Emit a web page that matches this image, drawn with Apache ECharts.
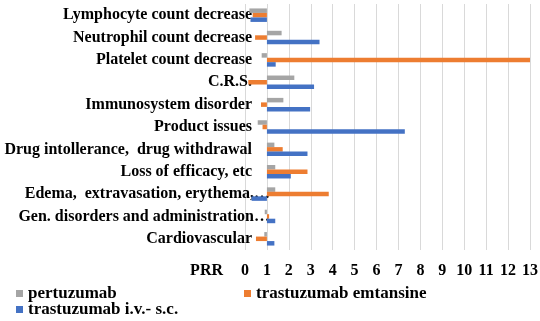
<!DOCTYPE html>
<html>
<head>
<meta charset="utf-8">
<script src="https://cdn.jsdelivr.net/npm/echarts@6/dist/echarts.min.js"></script>
<style>
  html, body { margin: 0; padding: 0; background: #fff; }
  #main { width: 540px; height: 321px; }
</style>
</head>
<body>
<div id="main"></div>
<script>
// categories listed top to bottom as in the picture
var categories = [
  'Lymphocyte count decrease',
  'Neutrophil count decrease',
  'Platelet count decrease',
  'C.R.S.',
  'Immunosystem disorder',
  'Product issues',
  'Drug intollerance,  drug withdrawal',
  'Loss of efficacy, etc',
  'Edema,  extravasation, erythema,…',
  'Gen. disorders and administration…',
  'Cardiovascular'
];
var pertuzumab = [0.2, 1.67, 0.76, 2.25, 1.75, 0.58, 1.34, 1.38, 1.38, 0.9, 0.88];
var emtansine = [0.35, 0.46, 13, 0.15, 0.73, 0.8, 1.72, 2.85, 3.82, 1.1, 0.5];
var ivsc = [0.25, 3.4, 1.4, 3.15, 2.97, 7.29, 2.85, 2.09, 0.3, 1.38, 1.34];
var names = ['pertuzumab', 'trastuzumab emtansine', 'trastuzumab i.v.- s.c.'];
var colors = ['#A5A5A5', '#ED7D31', '#4472C4'];
var baseline = 1; // bars grow from PRR = 1

var font = "'Liberation Serif', 'Times New Roman', serif";
var myChart = echarts.init(document.getElementById('main'));

var series = [];
[pertuzumab, emtansine, ivsc].forEach(function (vals, i) {
  // invisible part from 0 to 1
  series.push({
    name: '_base' + i,
    type: 'bar',
    stack: 's' + i,
    stackStrategy: 'all',
    silent: true,
    barWidth: 4.5,
    barGap: '0%',
    itemStyle: { color: 'rgba(0,0,0,0)' },
    data: vals.map(function () { return baseline; })
  });
  series.push({
    name: names[i],
    type: 'bar',
    stack: 's' + i,
    stackStrategy: 'all',
    barWidth: 4.5,
    barGap: '0%',
    itemStyle: { color: colors[i] },
    data: vals.map(function (v) { return +(v - baseline).toFixed(3); })
  });
});

// truncated labels run a bit past the axis in the original
var catData = categories.map(function (c) {
  if (c.slice(-1) === '…') {
    return { value: c, textStyle: { padding: [0, -18, 0, 0] } };
  }
  return c;
});

function legendAt(name, left, top) {
  return {
    data: [name],
    left: left,
    top: top,
    icon: 'rect',
    itemWidth: 7,
    itemHeight: 7,
    itemGap: 5,
    padding: 0,
    textStyle: { fontFamily: font, fontWeight: 'bold', fontSize: 17, color: '#000' }
  };
}

var option = {
  animation: false,
  color: colors,
  grid: { left: 245, right: 10, top: 4, bottom: 71, outerBoundsMode: 'none' },
  legend: [
    legendAt(names[0], 16, 285),
    legendAt(names[1], 244, 285),
    legendAt(names[2], 16, 301)
  ],
  xAxis: {
    type: 'value',
    min: 0,
    max: 13,
    interval: 1,
    name: 'PRR',
    nameLocation: 'start',
    nameGap: 22,
    nameTextStyle: {
      fontFamily: font, fontWeight: 'bold', fontSize: 16, color: '#000',
      verticalAlign: 'top', padding: [13, 0, 0, 0]
    },
    axisLine: { show: false },
    axisTick: { show: false },
    axisLabel: { fontFamily: font, fontWeight: 'bold', fontSize: 16, color: '#000', margin: 13 },
    splitLine: { lineStyle: { color: '#d9d9d9', width: 1 } }
  },
  yAxis: {
    type: 'category',
    inverse: true,
    data: catData,
    axisLine: { show: false },
    axisTick: { show: false },
    axisLabel: { fontFamily: font, fontWeight: 'bold', fontSize: 16, color: '#000', margin: -7 }
  },
  series: series
};
myChart.setOption(option);
</script>
</body>
</html>
